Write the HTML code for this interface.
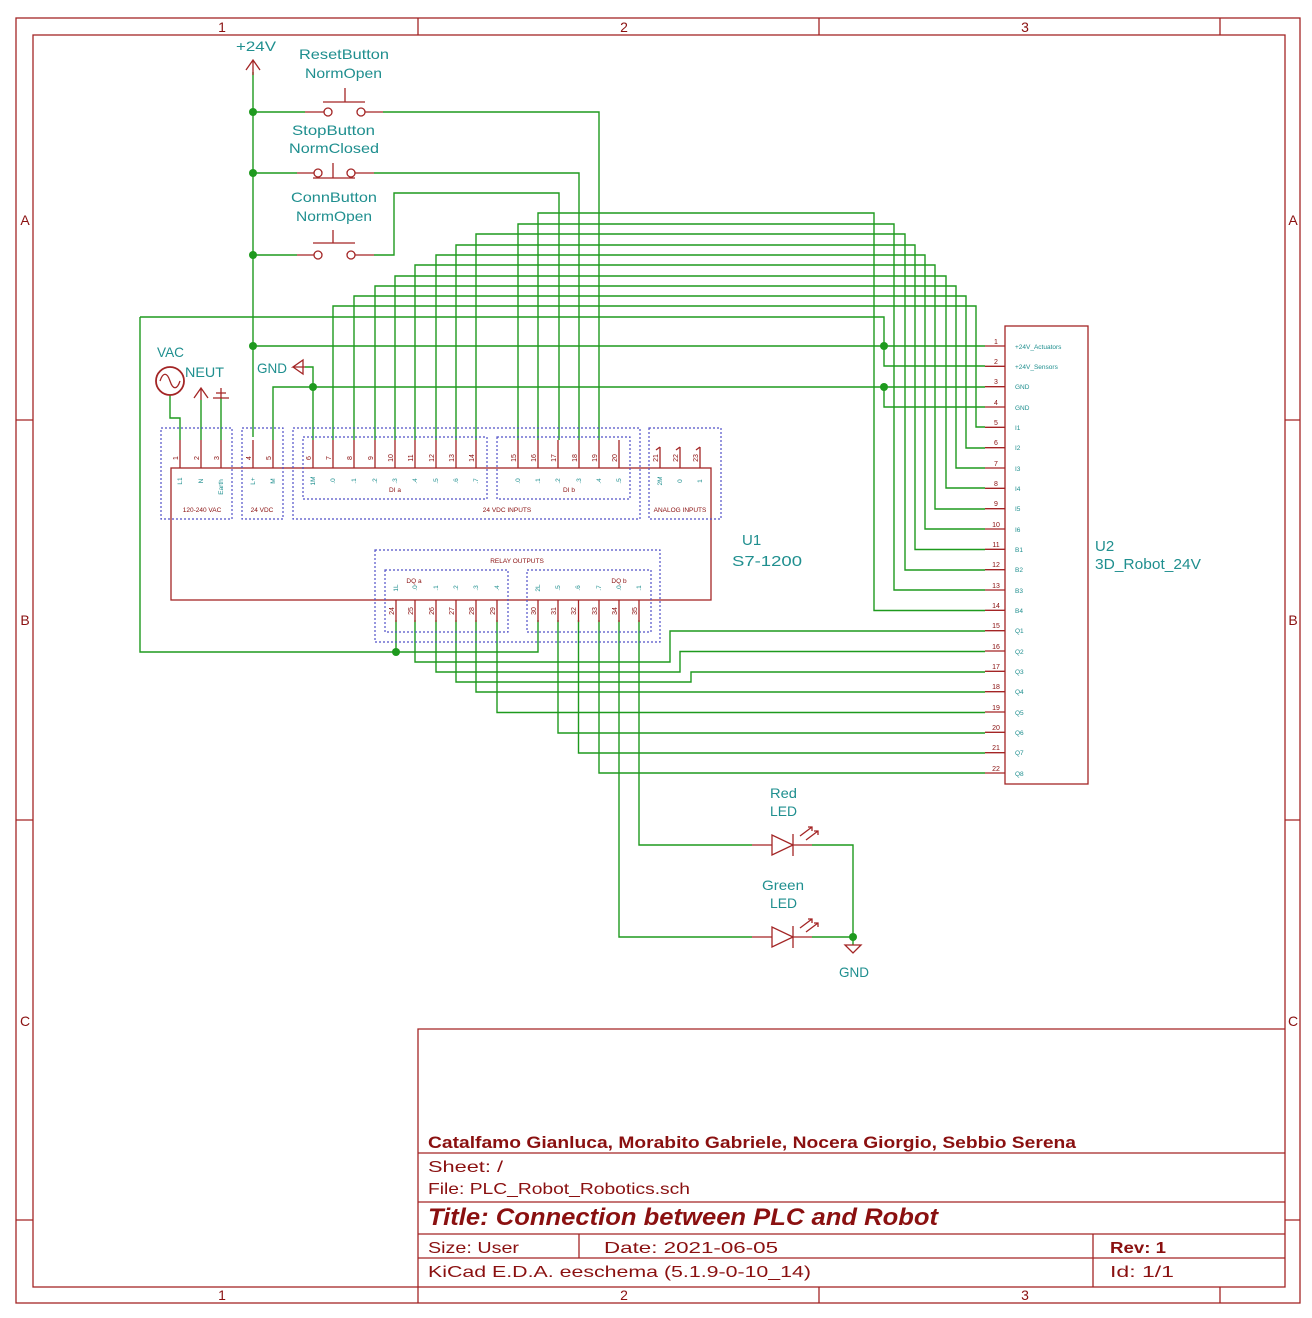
<!DOCTYPE html>
<html><head><meta charset="utf-8"><style>
html,body{margin:0;padding:0;background:#fff}
svg{display:block}
text{font-family:"Liberation Sans",sans-serif}
.w{fill:none;stroke:#1e9a1e;stroke-width:1.4}
.r{fill:none;stroke:#a32525;stroke-width:1.3}
.b{fill:none;stroke:#5050c8;stroke-width:1.2;stroke-dasharray:2 2}
.t{fill:#1f8f8f}
.d{fill:#8a1010}
</style></head><body>
<svg width="1312" height="1318" viewBox="0 0 1312 1318" xmlns="http://www.w3.org/2000/svg">
<!-- border -->
<g class="r" stroke-width="1.2">
<rect x="16" y="18" width="1284" height="1285"/>
<rect x="33" y="35" width="1252" height="1252"/>
<path d="M418,18V35M819,18V35M1220,18V35M418,1287V1303M819,1287V1303M1220,1287V1303M16,420H33M16,820H33M16,1220H33M1285,420H1300M1285,820H1300M1285,1220H1300"/>
</g>
<g class="d" font-size="14" text-anchor="middle" fill="#a32525">
<text x="222" y="32">1</text><text x="624" y="32">2</text><text x="1025" y="32">3</text>
<text x="222" y="1300">1</text><text x="624" y="1300">2</text><text x="1025" y="1300">3</text>
<text x="25" y="225">A</text><text x="25" y="625">B</text><text x="25" y="1026">C</text>
<text x="1293" y="225">A</text><text x="1293" y="625">B</text><text x="1293" y="1026">C</text>
</g>
<!-- title block -->
<g class="r" stroke-width="1.2">
<path d="M418,1287V1029H1285M418,1153H1285M418,1202H1285M418,1234H1285M418,1258H1285M579,1234V1258M1093,1234V1287"/>
</g>
<g lengthAdjust="spacingAndGlyphs">
<text x="428" y="1148" font-size="17" font-weight="bold" fill="#8a1010" textLength="648" lengthAdjust="spacingAndGlyphs">Catalfamo Gianluca, Morabito Gabriele, Nocera Giorgio, Sebbio Serena</text>
<text x="428" y="1172" font-size="16" fill="#8a1010" textLength="75" lengthAdjust="spacingAndGlyphs">Sheet: /</text>
<text x="428" y="1194" font-size="16" fill="#8a1010" textLength="262" lengthAdjust="spacingAndGlyphs">File: PLC_Robot_Robotics.sch</text>
<text x="428" y="1225" font-size="24" font-weight="bold" font-style="italic" fill="#8a1010" textLength="510" lengthAdjust="spacingAndGlyphs">Title: Connection between PLC and Robot</text>
<text x="428" y="1253" font-size="16" fill="#8a1010" textLength="91" lengthAdjust="spacingAndGlyphs">Size: User</text>
<text x="604" y="1253" font-size="16" fill="#8a1010" textLength="174" lengthAdjust="spacingAndGlyphs">Date: 2021-06-05</text>
<text x="1110" y="1253" font-size="16" font-weight="bold" fill="#8a1010" textLength="56" lengthAdjust="spacingAndGlyphs">Rev: 1</text>
<text x="428" y="1277" font-size="16" fill="#8a1010" textLength="383" lengthAdjust="spacingAndGlyphs">KiCad E.D.A.  eeschema (5.1.9-0-10_14)</text>
<text x="1110" y="1277" font-size="16" fill="#8a1010" textLength="64" lengthAdjust="spacingAndGlyphs">Id: 1/1</text>
</g>

<!-- wires -->
<g class="w">
<path d="M253,72V437"/>
<path d="M253,112H305M383,112H599V440"/>
<path d="M253,173H297M374,173H579V440"/>
<path d="M253,255H297M374,255H394V193H559V440"/>
<path d="M538,440V213H874V610.5H985"/>
<path d="M518,440V224H894V590H985"/>
<path d="M476,440V234H905V570H985"/>
<path d="M456,440V245H915V549.5H985"/>
<path d="M436,440V255H925V529H985"/>
<path d="M415,440V265H935V509H985"/>
<path d="M395,440V276H946V488H985"/>
<path d="M375,440V286H956V468H985"/>
<path d="M354,440V296H966V448H985"/>
<path d="M333,440V306H976V427H985"/>
<path d="M140,317H884V366H985M140,317V652H538V620M396,652V620"/>
<path d="M253,346H985"/>
<path d="M273,440V387H985M884,387V407H985"/>
<path d="M313,440V367H305"/>
<path d="M170,395V418H180V440"/>
<path d="M201,400V440M221,398V440"/>
<path d="M415,620V662H670V631H985"/>
<path d="M436,620V672H680V651.5H985"/>
<path d="M456,620V682H691V672H985"/>
<path d="M476,620V692H985"/>
<path d="M497,620V712.5H985"/>
<path d="M558,620V733H985"/>
<path d="M578.5,620V753H985"/>
<path d="M599,620V773H985"/>
<path d="M619,620V937H752"/>
<path d="M639,620V845H752"/>
<path d="M812,845H853V937H812M853,937V945"/>
</g>
<g fill="#1e9a1e">
<circle cx="253" cy="112" r="4"/><circle cx="253" cy="173" r="4"/><circle cx="253" cy="255" r="4"/><circle cx="253" cy="346" r="4"/>
<circle cx="884" cy="346" r="4"/><circle cx="884" cy="387" r="4"/><circle cx="313" cy="387" r="4"/>
<circle cx="396" cy="652" r="4"/><circle cx="853" cy="937" r="4"/>
</g>

<!-- power symbols -->
<g class="r">
<path d="M253,60V75M246,70L253,60L260,70"/>
<path d="M201,388V400M194,398L201,388L208,398"/>
<path d="M221,388V398M213,398H229M216,393H226"/>
<path d="M305,367H300L293,367L303,360V374L293,367"/>
<circle cx="170" cy="381" r="14" stroke-width="1.8"/>
<path d="M160,381C163,372 167,372 170,381C173,390 177,390 180,381"/>
<path d="M845,945H861L853,953Z"/>
</g>
<text x="236" y="51" font-size="14" class="t" textLength="40" lengthAdjust="spacingAndGlyphs">+24V</text>
<text x="157" y="357" font-size="14" class="t" textLength="27" lengthAdjust="spacingAndGlyphs">VAC</text>
<text x="185" y="377" font-size="14" class="t" textLength="39" lengthAdjust="spacingAndGlyphs">NEUT</text>
<text x="257" y="373" font-size="14" class="t" textLength="30" lengthAdjust="spacingAndGlyphs">GND</text>
<text x="839" y="977" font-size="14" class="t" textLength="30" lengthAdjust="spacingAndGlyphs">GND</text>

<!-- buttons -->
<g class="r">
<path d="M305,112H324M365,112H383"/><circle cx="328" cy="112" r="4"/><circle cx="361" cy="112" r="4"/><path d="M323,102H365M345,88V102"/>
<path d="M297,173H314M355,173H374"/><circle cx="318" cy="173" r="4"/><circle cx="351" cy="173" r="4"/><path d="M313,178H355M333,163V178"/>
<path d="M297,255H314M355,255H374"/><circle cx="318" cy="255" r="4"/><circle cx="351" cy="255" r="4"/><path d="M313,243H355M333,230V243"/>
</g>
<g font-size="14" class="t">
<text x="299" y="59" textLength="90" lengthAdjust="spacingAndGlyphs">ResetButton</text><text x="305" y="78" textLength="77" lengthAdjust="spacingAndGlyphs">NormOpen</text>
<text x="292" y="135" textLength="83" lengthAdjust="spacingAndGlyphs">StopButton</text><text x="289" y="153" textLength="90" lengthAdjust="spacingAndGlyphs">NormClosed</text>
<text x="291" y="202" textLength="86" lengthAdjust="spacingAndGlyphs">ConnButton</text><text x="296" y="221" textLength="76" lengthAdjust="spacingAndGlyphs">NormOpen</text>
<text x="770" y="798" textLength="27" lengthAdjust="spacingAndGlyphs">Red</text><text x="770" y="816" textLength="27" lengthAdjust="spacingAndGlyphs">LED</text>
<text x="762" y="890" textLength="42" lengthAdjust="spacingAndGlyphs">Green</text><text x="770" y="908" textLength="27" lengthAdjust="spacingAndGlyphs">LED</text>
</g>
<!-- LEDs -->
<g class="r">
<path d="M752,845H772M793,845H812M772,835V855L793,845Z M793,834V856M800,836L812,827M808,827H812V831M806,840L818,831M814,831H818V835"/>
<path d="M752,937H772M793,937H812M772,927V947L793,937Z M793,926V948M800,928L812,919M808,919H812V923M806,932L818,923M814,923H818V927"/>
</g>

<!-- PLC -->
<rect x="171" y="468" width="540" height="132" class="r"/>
<g class="b">
<rect x="161" y="428" width="71" height="91"/>
<rect x="242" y="428" width="41" height="91"/>
<rect x="293" y="428" width="347" height="91"/>
<rect x="303" y="437" width="184" height="62"/>
<rect x="497" y="437" width="133" height="62"/>
<rect x="649" y="428" width="72" height="91"/>
<rect x="375" y="550" width="285" height="92"/>
<rect x="385" y="570" width="123" height="62"/>
<rect x="527" y="570" width="124" height="62"/>
</g>
<g class="r">
<path d="M180,440V468M201,440V468M221,440V468M253,440V468M273,440V468M313,440V468M333,440V468M354,440V468M375,440V468M395,440V468M415,440V468M436,440V468M456,440V468M476,440V468M518,440V468M538,440V468M558,440V468M579,440V468M599,440V468M619,440V468M660,447V468M680,447V468M700,447V468"/>
<path d="M396,600V622M415,600V622M436,600V622M456,600V622M476,600V622M497,600V622M538,600V622M558,600V622M578.5,600V622M599,600V622M619,600V622M639,600V622"/>
<path d="M656,450L660,447M676,450L680,447M696,450L700,447"/>
</g>
<g font-size="7" fill="#8a1010" text-anchor="middle">
<text transform="translate(178,458) rotate(-90)">1</text>
<text transform="translate(199,458) rotate(-90)">2</text>
<text transform="translate(219,458) rotate(-90)">3</text>
<text transform="translate(251,458) rotate(-90)">4</text>
<text transform="translate(271,458) rotate(-90)">5</text>
<text transform="translate(311,458) rotate(-90)">6</text>
<text transform="translate(331,458) rotate(-90)">7</text>
<text transform="translate(352,458) rotate(-90)">8</text>
<text transform="translate(373,458) rotate(-90)">9</text>
<text transform="translate(393,458) rotate(-90)">10</text>
<text transform="translate(413,458) rotate(-90)">11</text>
<text transform="translate(434,458) rotate(-90)">12</text>
<text transform="translate(454,458) rotate(-90)">13</text>
<text transform="translate(474,458) rotate(-90)">14</text>
<text transform="translate(516,458) rotate(-90)">15</text>
<text transform="translate(536,458) rotate(-90)">16</text>
<text transform="translate(556,458) rotate(-90)">17</text>
<text transform="translate(577,458) rotate(-90)">18</text>
<text transform="translate(597,458) rotate(-90)">19</text>
<text transform="translate(617,458) rotate(-90)">20</text>
<text transform="translate(658,458) rotate(-90)">21</text>
<text transform="translate(678,458) rotate(-90)">22</text>
<text transform="translate(698,458) rotate(-90)">23</text>
<text transform="translate(394,611) rotate(-90)">24</text>
<text transform="translate(413,611) rotate(-90)">25</text>
<text transform="translate(434,611) rotate(-90)">26</text>
<text transform="translate(454,611) rotate(-90)">27</text>
<text transform="translate(474,611) rotate(-90)">28</text>
<text transform="translate(495,611) rotate(-90)">29</text>
<text transform="translate(536,611) rotate(-90)">30</text>
<text transform="translate(556,611) rotate(-90)">31</text>
<text transform="translate(576,611) rotate(-90)">32</text>
<text transform="translate(597,611) rotate(-90)">33</text>
<text transform="translate(617,611) rotate(-90)">34</text>
<text transform="translate(637,611) rotate(-90)">35</text>
</g>
<g font-size="6.5" class="t" text-anchor="middle">
<text transform="translate(182,481) rotate(-90)">L1</text>
<text transform="translate(203,481) rotate(-90)">N</text>
<text transform="translate(223,487) rotate(-90)">Earth</text>
<text transform="translate(255,481) rotate(-90)">L+</text>
<text transform="translate(275,481) rotate(-90)">M</text>
<text transform="translate(315,481) rotate(-90)">1M</text>
<text transform="translate(335,481) rotate(-90)">.0</text>
<text transform="translate(356,481) rotate(-90)">.1</text>
<text transform="translate(377,481) rotate(-90)">.2</text>
<text transform="translate(397,481) rotate(-90)">.3</text>
<text transform="translate(417,481) rotate(-90)">.4</text>
<text transform="translate(438,481) rotate(-90)">.5</text>
<text transform="translate(458,481) rotate(-90)">.6</text>
<text transform="translate(478,481) rotate(-90)">.7</text>
<text transform="translate(520,481) rotate(-90)">.0</text>
<text transform="translate(540,481) rotate(-90)">.1</text>
<text transform="translate(560,481) rotate(-90)">.2</text>
<text transform="translate(581,481) rotate(-90)">.3</text>
<text transform="translate(601,481) rotate(-90)">.4</text>
<text transform="translate(621,481) rotate(-90)">.5</text>
<text transform="translate(662,481) rotate(-90)">2M</text>
<text transform="translate(682,481) rotate(-90)">0</text>
<text transform="translate(702,481) rotate(-90)">1</text>
<text transform="translate(398,588) rotate(-90)">1L</text>
<text transform="translate(417,588) rotate(-90)">.0</text>
<text transform="translate(438,588) rotate(-90)">.1</text>
<text transform="translate(458,588) rotate(-90)">.2</text>
<text transform="translate(478,588) rotate(-90)">.3</text>
<text transform="translate(499,588) rotate(-90)">.4</text>
<text transform="translate(540,588) rotate(-90)">2L</text>
<text transform="translate(560,588) rotate(-90)">.5</text>
<text transform="translate(580,588) rotate(-90)">.6</text>
<text transform="translate(601,588) rotate(-90)">.7</text>
<text transform="translate(621,588) rotate(-90)">.0</text>
<text transform="translate(641,588) rotate(-90)">.1</text>
</g>
<g font-size="6.5" fill="#8a1010" text-anchor="middle">
<text x="202" y="512">120-240 VAC</text>
<text x="262" y="512">24 VDC</text>
<text x="507" y="512">24 VDC INPUTS</text>
<text x="395" y="492">DI a</text>
<text x="569" y="492">DI b</text>
<text x="680" y="512">ANALOG INPUTS</text>
<text x="517" y="563">RELAY OUTPUTS</text>
<text x="414" y="583">DQ a</text>
<text x="619" y="583">DQ b</text>
</g>
<text x="742" y="545" font-size="15" class="t">U1</text>
<text x="732" y="566" font-size="15" class="t" textLength="70" lengthAdjust="spacingAndGlyphs">S7-1200</text>

<!-- Robot -->
<rect x="1005" y="326" width="83" height="458" class="r"/>
<g class="r">
<path d="M985,346H1005M985,366.3H1005M985,386.7H1005M985,407H1005M985,427.3H1005M985,447.7H1005M985,468H1005M985,488.3H1005M985,508.7H1005M985,529H1005M985,549.3H1005M985,569.7H1005M985,590H1005M985,610.3H1005M985,630.7H1005M985,651H1005M985,671.3H1005M985,691.7H1005M985,712H1005M985,732.3H1005M985,752.7H1005M985,773H1005"/>
</g>
<g font-size="7" fill="#8a1010" text-anchor="middle">
<text x="996" y="344">1</text><text x="996" y="364">2</text><text x="996" y="384">3</text><text x="996" y="405">4</text><text x="996" y="425">5</text><text x="996" y="445">6</text><text x="996" y="466">7</text><text x="996" y="486">8</text><text x="996" y="506">9</text><text x="996" y="527">10</text><text x="996" y="547">11</text><text x="996" y="567">12</text><text x="996" y="588">13</text><text x="996" y="608">14</text><text x="996" y="628">15</text><text x="996" y="649">16</text><text x="996" y="669">17</text><text x="996" y="689">18</text><text x="996" y="710">19</text><text x="996" y="730">20</text><text x="996" y="750">21</text><text x="996" y="771">22</text>
</g>
<g font-size="6.5" class="t">
<text x="1015" y="349">+24V_Actuators</text><text x="1015" y="369">+24V_Sensors</text><text x="1015" y="389">GND</text><text x="1015" y="410">GND</text>
<text x="1015" y="430">I1</text><text x="1015" y="450">I2</text><text x="1015" y="471">I3</text><text x="1015" y="491">I4</text><text x="1015" y="511">I5</text><text x="1015" y="532">I6</text>
<text x="1015" y="552">B1</text><text x="1015" y="572">B2</text><text x="1015" y="593">B3</text><text x="1015" y="613">B4</text>
<text x="1015" y="633">Q1</text><text x="1015" y="654">Q2</text><text x="1015" y="674">Q3</text><text x="1015" y="694">Q4</text><text x="1015" y="715">Q5</text><text x="1015" y="735">Q6</text><text x="1015" y="755">Q7</text><text x="1015" y="776">Q8</text>
</g>
<text x="1095" y="551" font-size="15" class="t">U2</text>
<text x="1095" y="569" font-size="15" class="t" textLength="106" lengthAdjust="spacingAndGlyphs">3D_Robot_24V</text>
</svg>
</body></html>
